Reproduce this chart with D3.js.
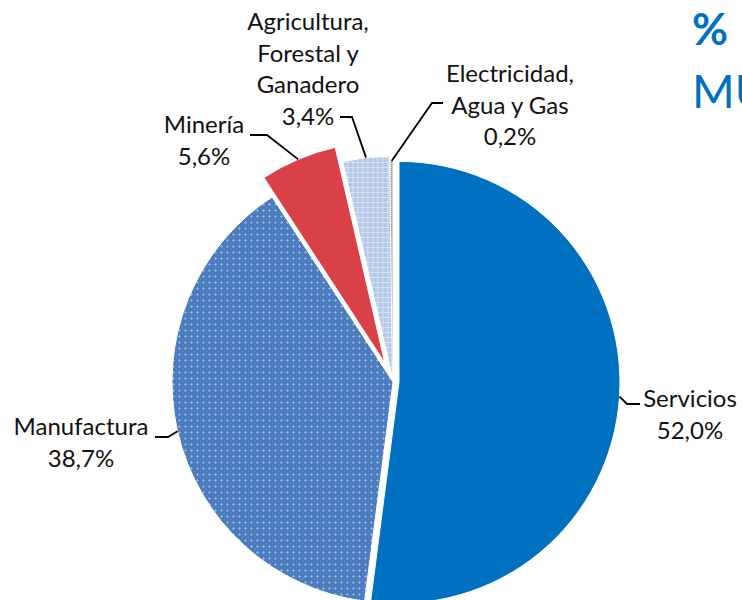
<!DOCTYPE html>
<html>
<head>
<meta charset="utf-8">
<script src="https://cdn.jsdelivr.net/npm/d3@7"></script>
<style>
  html, body { margin: 0; padding: 0; background: #fff; overflow: hidden; }
  #chart { width: 742px; height: 600px; }
  .lbl { font-family: Lato, "Open Sans", sans-serif; font-size: 24px; fill: #111; }
  .ttl { font-family: Lato, "Open Sans", sans-serif; fill: #0070C0; }
</style>
</head>
<body>
<div id="chart"></div>
<script>
// data
const sectors = ["Servicios", "Manufactura", "Minería", "Agricultura, Forestal y Ganadero", "Electricidad, Agua y Gas"];
const shares = [52.0, 38.7, 5.6, 3.4, 0.2];
const labelLines = [
    ["Servicios"],
    ["Manufactura"],
    ["Minería"],
    ["Agricultura,", "Forestal y", "Ganadero"],
    ["Electricidad,", "Agua y Gas"]
];
const titleLines = ["%", "MU"];

// styling / layout (not data)
const sliceFills = ["#0070C0", "url(#patManu)", "#DA4048", "url(#patAgri)", "url(#patElec)"];
const explode = [6, 0, 21, 5, 0];
// label text: centre x, first baseline; leader: elbow, end (relative to the label anchor point)
const anchor = [392, 379];
const labelLayout = [
    { tx: 298, ty: 28, elbow: [235, 25], end: [248, 25] },
    { tx: -311, ty: 56, elbow: [-224, 58], end: [-237, 58] },
    { tx: -188, ty: -246, elbow: [-125, -244], end: [-142, -244] },
    { tx: -84, ty: -349, elbow: [-40, -262], end: [-52, -262] },
    { tx: 118, ty: -297, elbow: [40, -276], end: [51, -276] }
];

const width = 742, height = 600;
const cx = 393, cy = 382, radius = 221, lineH = 31.5;
const fmt = v => v.toFixed(1).replace(".", ",") + "%";

const svg = d3.select("#chart").append("svg")
    .attr("width", width).attr("height", height)
    .attr("viewBox", `0 0 ${width} ${height}`);

const defs = svg.append("defs");

const pManu = defs.append("pattern").attr("id", "patManu").attr("patternUnits", "userSpaceOnUse")
    .attr("width", 6).attr("height", 6);
pManu.append("rect").attr("width", 6).attr("height", 6).attr("fill", "#497bbd");
pManu.append("rect").attr("x", 2).attr("y", 1).attr("width", 1).attr("height", 3).attr("fill", "#8cafdd");
pManu.append("rect").attr("x", 1).attr("y", 2).attr("width", 3).attr("height", 1).attr("fill", "#8cafdd");
pManu.append("rect").attr("x", 5).attr("y", 5).attr("width", 1).attr("height", 1).attr("fill", "#6a94cd");

const pAgri = defs.append("pattern").attr("id", "patAgri").attr("patternUnits", "userSpaceOnUse")
    .attr("width", 5).attr("height", 5);
pAgri.append("rect").attr("width", 5).attr("height", 5).attr("fill", "#b3c8e6");
pAgri.append("rect").attr("width", 5).attr("height", 1).attr("fill", "#d6e2f2");
pAgri.append("rect").attr("width", 1).attr("height", 5).attr("fill", "#d6e2f2");

const pElec = defs.append("pattern").attr("id", "patElec").attr("patternUnits", "userSpaceOnUse")
    .attr("width", 2).attr("height", 2);
pElec.append("rect").attr("width", 2).attr("height", 2).attr("fill", "#d0d0d0");
pElec.append("rect").attr("width", 1).attr("height", 1).attr("fill", "#8a8a8a");

const pie = d3.pie().value(d => d).sort(null);
const arcs = pie(shares);
const arc = d3.arc().innerRadius(0).outerRadius(radius);

const g = svg.append("g").attr("transform", `translate(${cx},${cy})`);
const gl = svg.append("g").attr("transform", `translate(${anchor})`);

const offset = (d, i) => {
    const a = (d.startAngle + d.endAngle) / 2;
    return [Math.sin(a) * explode[i], -Math.cos(a) * explode[i]];
};

g.selectAll("path.slice").data(arcs).enter().append("path")
    .attr("class", "slice")
    .attr("d", arc)
    .attr("transform", (d, i) => `translate(${offset(d, i)})`)
    .attr("fill", (d, i) => sliceFills[i])
    .attr("stroke", "#fff")
    .attr("stroke-width", (d, i) => i === 4 ? 0 : 1);

// leader lines: from the slice rim at its mid angle to the label
gl.selectAll("path.leader").data(arcs).enter().append("path")
    .attr("class", "leader")
    .attr("fill", "none")
    .attr("stroke", "#000")
    .attr("stroke-width", 1.8)
    .attr("d", (d, i) => {
        const a = (d.startAngle + d.endAngle) / 2;
        const o = offset(d, i);
        const p0 = [cx - anchor[0] + o[0] + Math.sin(a) * radius, cy - anchor[1] + o[1] - Math.cos(a) * radius];
        const L = labelLayout[i];
        return d3.line()([p0, L.elbow, L.end]);
    });

// labels
const lbl = gl.selectAll("text.lbl").data(arcs).enter().append("text")
    .attr("class", "lbl")
    .attr("text-anchor", "middle");
lbl.each(function (d, i) {
    const t = d3.select(this);
    const L = labelLayout[i];
    labelLines[i].concat([fmt(shares[i])]).forEach((s, k) => {
        t.append("tspan").attr("x", L.tx).attr("y", L.ty + k * lineH).text(s);
    });
});

// title (cut by the page edge, as in the source)
svg.append("text").attr("class", "ttl").attr("x", 692).attr("y", 45)
    .attr("font-size", 44).attr("font-weight", "bold").text(titleLines[0]);
svg.append("text").attr("class", "ttl").attr("x", 692).attr("y", 108)
    .attr("font-size", 46).text(titleLines[1]);
</script>
</body>
</html>
